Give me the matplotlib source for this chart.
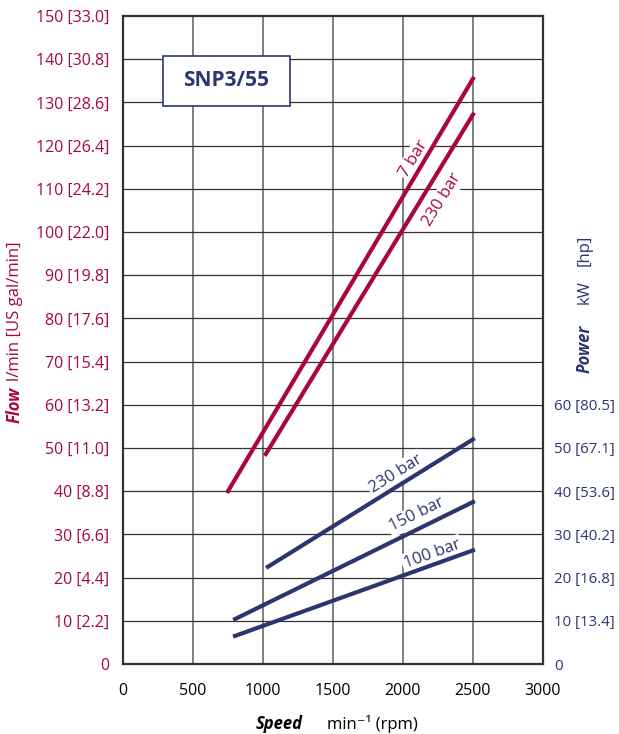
"""
SNP3/55 flow and power vs speed
"""
import matplotlib
matplotlib.use("Agg")
import matplotlib.pyplot as plt
from matplotlib.patches import Rectangle

plt.rcParams['font.family'] = ['Open Sans', 'DejaVu Sans']

RED = '#a8063f'
NAVY = '#2b3670'

# flow curves, l/min
flow_7_speed = [750, 2500]
flow_7 = [40, 135.5]
flow_230_speed = [1020, 2500]
flow_230 = [48.6, 127.2]

# power curves, kW
pow_230_speed = [1035, 2500]
pow_230 = [22.5, 52]
pow_150_speed = [800, 2500]
pow_150 = [10.4, 37.5]
pow_100_speed = [800, 2500]
pow_100 = [6.5, 26.3]

flow_ticks = list(range(0, 151, 10))
flow_labels = ['0', '10 [2.2]', '20 [4.4]', '30 [6.6]', '40 [8.8]', '50 [11.0]',
               '60 [13.2]', '70 [15.4]', '80 [17.6]', '90 [19.8]', '100 [22.0]',
               '110 [24.2]', '120 [26.4]', '130 [28.6]', '140 [30.8]', '150 [33.0]']
power_ticks = list(range(0, 61, 10))
power_labels = ['0', '10 [13.4]', '20 [16.8]', '30 [40.2]', '40 [53.6]',
                '50 [67.1]', '60 [80.5]']
speed_ticks = list(range(0, 3001, 500))

fig = plt.figure(figsize=(6.19, 7.34), dpi=100)
ax = fig.add_axes([123 / 619, 70 / 734, 420 / 619, 648 / 734])
ax.set_xlim(0, 3000)
ax.set_ylim(0, 150)

ax.set_xticks(speed_ticks)
ax.set_xticklabels([str(s) for s in speed_ticks], fontsize=11.5)
ax.set_yticks(flow_ticks)
ax.set_yticklabels(flow_labels, fontsize=11.5, color=RED)
ax.tick_params(length=0, pad=10)
ax.tick_params(axis='x', pad=14)

for s in speed_ticks[1:-1]:
    ax.axvline(s, color='#6a6a6a', lw=1.2, zorder=1)
for f in flow_ticks[1:-1]:
    ax.axhline(f, color='#333333', lw=0.9, zorder=1)
for sp in ax.spines.values():
    sp.set_color('#333333')
    sp.set_linewidth(1.6)

ax2 = ax.twinx()
ax2.set_ylim(0, 150)
ax2.set_yticks(power_ticks)
ax2.set_yticklabels(power_labels, fontsize=10.8, color=NAVY)
ax2.tick_params(length=0, pad=8)
for sp in ax2.spines.values():
    sp.set_visible(False)

lw = 3.0
ax.plot(flow_7_speed, flow_7, color=RED, lw=lw, zorder=3)
ax.plot(flow_230_speed, flow_230, color=RED, lw=lw, zorder=3)
ax.plot(pow_230_speed, pow_230, color=NAVY, lw=lw, zorder=3)
ax.plot(pow_150_speed, pow_150, color=NAVY, lw=lw, zorder=3)
ax.plot(pow_100_speed, pow_100, color=NAVY, lw=lw, zorder=3)

box = dict(facecolor='white', edgecolor='none', pad=1.5)
ax.text(2080, 117, '7 bar', color=RED, fontsize=12, rotation=59,
        ha='center', va='center', bbox=box, zorder=2)
ax.text(2279, 107.4, '230 bar', color=RED, fontsize=12, rotation=58.5,
        ha='center', va='center', bbox=box, zorder=2)
ax.text(1950, 44, '230 bar', color=NAVY, fontsize=12, rotation=32,
        ha='center', va='center', bbox=box, zorder=2)
ax.text(2100, 34.5, '150 bar', color=NAVY, fontsize=12, rotation=26,
        ha='center', va='center', bbox=box, zorder=2)
ax.text(2207, 25.5, '100 bar', color=NAVY, fontsize=12, rotation=20,
        ha='center', va='center', bbox=box, zorder=2)

ax.add_patch(Rectangle((40 / 420, 558 / 648), 127 / 420, 50 / 648,
                       transform=ax.transAxes, facecolor='white',
                       edgecolor=NAVY, lw=1.2, zorder=4))
ax.text(103.5 / 420, 583 / 648, 'SNP3/55', transform=ax.transAxes, color=NAVY,
        fontsize=15, fontweight='bold', ha='center', va='center', zorder=5)

# axis titles
fig.text(15 / 619, 1 - 405 / 734, 'Flow', rotation=90, color=RED, fontsize=12,
         fontweight='bold', style='italic', ha='center', va='center')
fig.text(15 / 619, 1 - 311 / 734, 'l/min [US gal/min]', rotation=90, color=RED,
         fontsize=12, ha='center', va='center')
fig.text(585 / 619, 1 - 349 / 734, 'Power', rotation=90, color=NAVY, fontsize=12,
         fontweight='bold', style='italic', ha='center', va='center')
fig.text(585 / 619, 1 - 292 / 734, 'kW', rotation=90, color=NAVY, fontsize=12,
         ha='center', va='center')
fig.text(585 / 619, 1 - 250 / 734, '[hp]', rotation=90, color=NAVY, fontsize=12,
         ha='center', va='center')
fig.text(279 / 619, 1 - 724 / 734, 'Speed', color='black', fontsize=12,
         fontweight='bold', style='italic', ha='center', va='center')
fig.text(372 / 619, 1 - 724 / 734, 'min⁻¹ (rpm)', color='black', fontsize=12,
         ha='center', va='center')

fig.savefig('out.png', dpi=100)
